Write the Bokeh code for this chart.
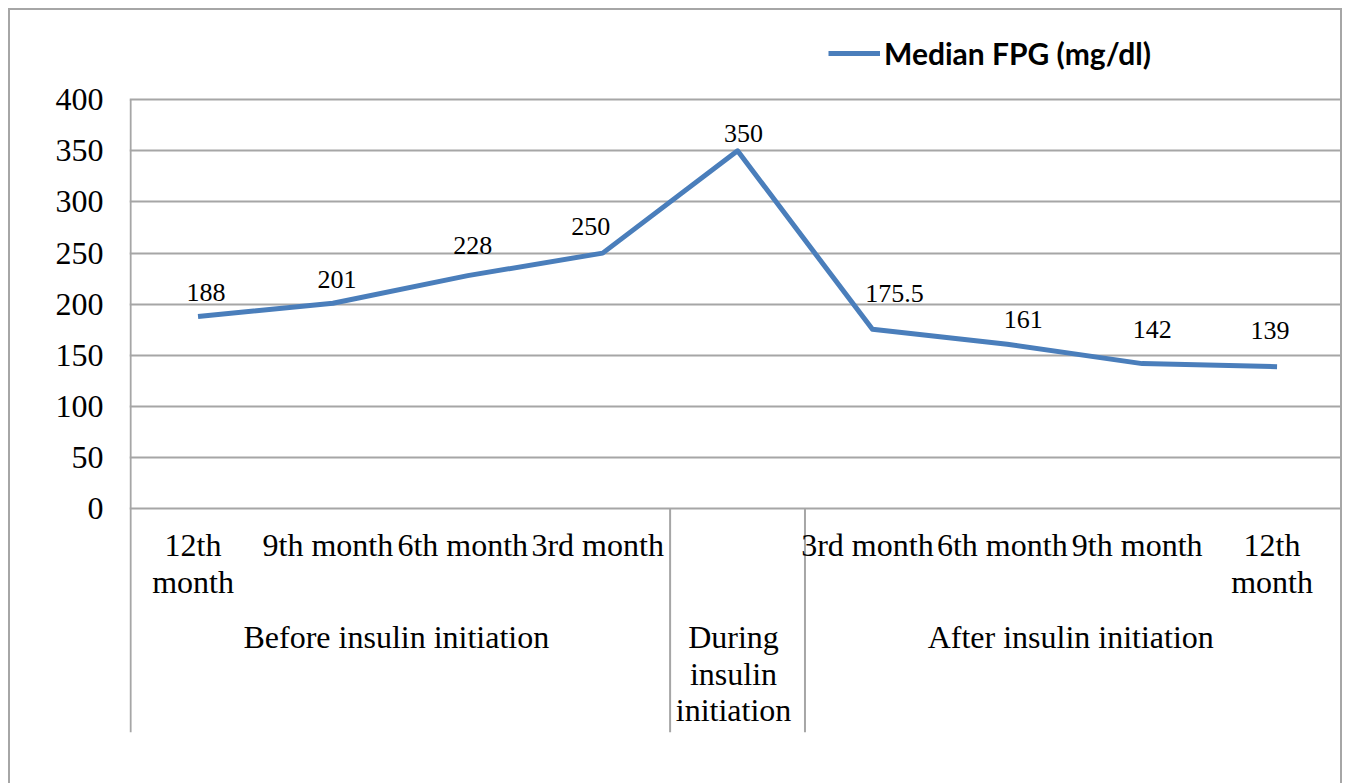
from bokeh.plotting import figure
from bokeh.models import Range1d, FixedTicker, Legend, LegendItem, ColumnDataSource
from bokeh.core.properties import value
from bokeh.embed import file_html
from bokeh.resources import INLINE

# ---- data ----
categories = ["12th\nmonth", "9th month", "6th month", "3rd month", "",
              "3rd month", "6th month", "9th month", "12th\nmonth"]
groups = ["Before insulin initiation", "During\ninsulin\ninitiation", "After insulin initiation"]
group_sizes = [4, 1, 4]
fpg = [188, 201, 228, 250, 350, 175.5, 161, 142, 139]
fpg_labels = ["188", "201", "228", "250", "350", "175.5", "161", "142", "139"]
y_ticks = [0, 50, 100, 150, 200, 250, 300, 350, 400]
series_name = "Median FPG (mg/dl)"

# ---- style / layout (pixels) ----
label_dx = [8, 4, 5, -12, 6, 22, 16, 10, -7]
label_dy = [24, 24, 30, 27, 17, 36, 25, 34, 36]
BLUE = "#4A7EBB"
GRAY = "#A6A6A6"
SERIF = "Liberation Serif"

xs = [i + 0.5 for i in range(len(fpg))]
n = len(categories)
y_bottom = -218.6
y_top = 477.4
cat_top = -17.6
group_top = -107.6

p = figure(width=1334, height=775, output_backend="svg", toolbar_location=None,
           x_range=Range1d(-0.008, n), y_range=Range1d(y_bottom, y_top),
           x_axis_location=None,
           min_border_left=119, min_border_right=0, min_border_top=10, min_border_bottom=53)
p.styles = {"border-top": f"2px solid {GRAY}", "border-left": f"2px solid {GRAY}",
            "border-right": f"2px solid {GRAY}", "margin-left": "8px", "margin-top": "8px"}
p.outline_line_color = None
p.background_fill_color = "white"
p.border_fill_color = "white"

# y axis
ax = p.yaxis[0]
ax.ticker = FixedTicker(ticks=y_ticks)
ax.major_tick_out = 0
ax.major_tick_in = 0
ax.minor_tick_out = 0
ax.minor_tick_in = 0
ax.axis_line_color = None
ax.major_label_standoff = 26
ax.major_label_text_font = SERIF
ax.major_label_text_font_size = "32px"
ax.major_label_text_color = "black"

p.xgrid.visible = False
p.ygrid.ticker = FixedTicker(ticks=y_ticks)
p.ygrid.grid_line_color = GRAY
p.ygrid.grid_line_width = 2

# left boundary and separators between groups
bounds = [0]
acc = 0
for s in group_sizes[:-1]:
    acc += s
    bounds.append(acc)
p.segment(x0=[0], y0=[y_ticks[-1]], x1=[0], y1=[y_bottom], line_color=GRAY, line_width=2)
p.segment(x0=bounds[1:], y0=[0] * (len(bounds) - 1), x1=bounds[1:],
          y1=[y_bottom] * (len(bounds) - 1), line_color=GRAY, line_width=2)

# series line
src = ColumnDataSource(dict(x=xs, y=fpg, t=fpg_labels, dx=label_dx, dy=[-d for d in label_dy]))
line = p.line("x", "y", source=src, line_color=BLUE, line_width=5, line_join="round")

# data labels
p.text("x", "y", text="t", source=src, x_offset="dx", y_offset="dy",
       text_align="center", text_baseline="alphabetic",
       text_font=value(SERIF), text_font_size="26px", text_color="black")

# category labels
p.text(x=xs, y=[cat_top] * n, text=categories, text_align="center", text_baseline="top",
       x_offset=-5,
       text_font=value(SERIF), text_font_size="32px", text_color="black",
       text_line_height=1.02)

# group labels
gx = []
acc = 0
for s in group_sizes:
    gx.append(acc + s / 2)
    acc += s
p.text(x=gx, y=[group_top] * len(gx), text=groups, text_align="center", text_baseline="top",
       x_offset=-4,
       text_font=value(SERIF), text_font_size="32px", text_color="black",
       text_line_height=1.02)

# legend
legend = Legend(items=[LegendItem(label=series_name, renderers=[line])],
                location=(699, 661), orientation="horizontal",
                glyph_width=52, glyph_height=30, label_height=30, label_standoff=4,
                padding=0, margin=0, spacing=0,
                border_line_color=None, background_fill_alpha=0,
                label_text_font="Lato", label_text_font_style="bold",
                label_text_font_size="30px", label_text_color="black")
p.add_layout(legend, "center")

open("out.html", "w").write(file_html(p, INLINE))
